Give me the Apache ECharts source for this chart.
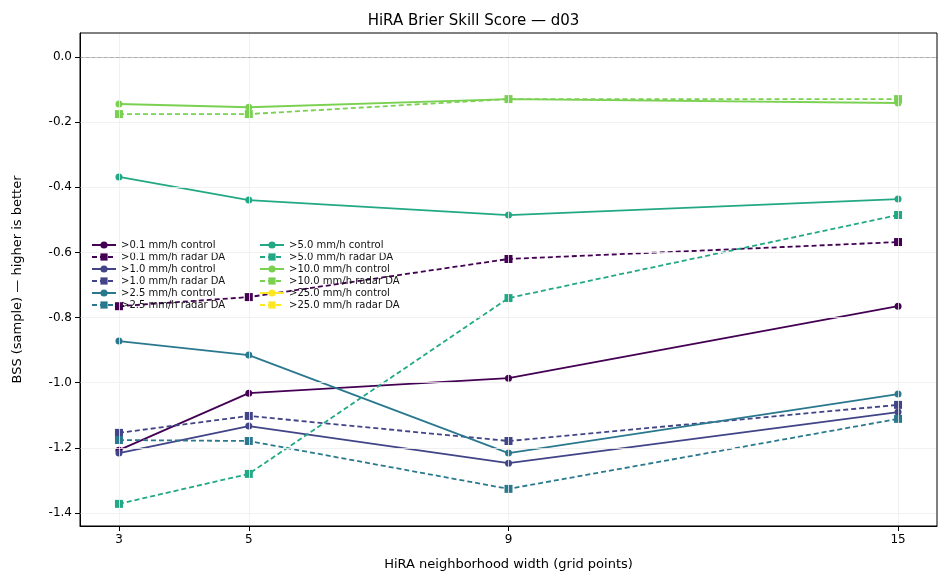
<!DOCTYPE html>
<html><head><meta charset="utf-8">
<script src="https://cdn.jsdelivr.net/npm/echarts@6/dist/echarts.min.js"></script>
<style>html,body{margin:0;background:#fff}#c{width:947px;height:584px}</style>
</head><body><div id="c"></div>
<script>
var widths = [3, 5, 9, 15];
var yTicks = [0, -0.2, -0.4, -0.6, -0.8, -1.0, -1.2, -1.4];
var thresholds = ['>0.1', '>1.0', '>2.5', '>5.0', '>10.0', '>25.0'];
var colors = ['#440154', '#414487', '#2a788e', '#22a884', '#7ad151', '#fde725'];
// control, radar DA per threshold
var control = [
    [-1.207, -1.032, -0.986, -0.765],
    [-1.216, -1.133, -1.247, -1.090],
    [-0.872, -0.915, -1.216, -1.035],
    [-0.368, -0.439, -0.485, -0.436],
    [-0.144, -0.154, -0.129, -0.141],
    [null, null, null, null]
];
var radar = [
    [-0.765, -0.737, -0.620, -0.568],
    [-1.154, -1.102, -1.179, -1.068],
    [-1.176, -1.179, -1.326, -1.111],
    [-1.372, -1.280, -0.740, -0.485],
    [-0.175, -0.175, -0.129, -0.129],
    [null, null, null, null]
];

var series = [];
var names1 = [], names2 = [];
thresholds.forEach(function(t, i){
    var n1 = t + ' mm/h control', n2 = t + ' mm/h radar DA';
    (i < 3 ? names1 : names2).push(n1, n2);
    series.push({
        name: n1, type: 'line', symbol: 'circle', symbolSize: 7, color: colors[i],
        itemStyle: {borderWidth: 0, color: colors[i]},
        lineStyle: {width: 1.8}, z: 3,
        data: widths.map(function(w, k){ return [w, control[i][k]]; })
    });
    series.push({
        name: n2, type: 'line', symbol: 'rect', symbolSize: 8, color: colors[i],
        itemStyle: {borderWidth: 0, color: colors[i]},
        lineStyle: {width: 1.8, type: [5, 3]}, z: 3,
        data: widths.map(function(w, k){ return [w, radar[i][k]]; })
    });
});
// grid lines + zero reference
series.push({
    type: 'line', data: [], silent: true,
    markLine: {
        symbol: 'none', silent: true, label: {show: false},
        data: widths.map(function(w){ return {xAxis: w, lineStyle: {color: '#eee', width: 0.8, type: 'solid'}}; })
            .concat(yTicks.map(function(v){ return {yAxis: v, lineStyle: {color: '#eee', width: 0.8, type: 'solid'}}; }))
            .concat([{yAxis: 0, lineStyle: {color: '#333', width: 0.6, type: 'dotted'}}])
    }
});

var leg = {
    orient: 'vertical', top: 235, itemWidth: 24, itemHeight: 9, itemGap: 2,
    itemStyle: {borderWidth: 0},
    textStyle: {fontSize: 10, color: '#111', fontFamily: 'DejaVu Sans'}
};
var option = {
    animation: false,
    title: {text: 'HiRA Brier Skill Score — d03', left: 'center', top: 9,
        textStyle: {fontSize: 15, fontWeight: 'normal', color: '#000', fontFamily: 'DejaVu Sans'}},
    legend: [
        Object.assign({}, leg, {left: 86, data: names1}),
        Object.assign({}, leg, {left: 254, data: names2})
    ],
    grid: {left: 80, right: 10, top: 33, bottom: 58},
    xAxis: {
        type: 'value', min: 2.4, max: 15.6,
        name: 'HiRA neighborhood width (grid points)', nameLocation: 'middle', nameGap: 32,
        nameTextStyle: {fontSize: 13, color: '#000', fontFamily: 'DejaVu Sans'},
        axisLine: {onZero: false, lineStyle: {color: '#000'}},
        axisTick: {customValues: widths, lineStyle: {color: '#000'}},
        axisLabel: {customValues: widths, color: '#000', fontSize: 12, fontFamily: 'DejaVu Sans'},
        splitLine: {show: false}
    },
    yAxis: {
        type: 'value', min: -1.44, max: 0.074,
        name: 'BSS (sample) — higher is better', nameLocation: 'middle', nameGap: 56,
        nameTextStyle: {fontSize: 13, color: '#000', fontFamily: 'DejaVu Sans'},
        axisLine: {show: true, lineStyle: {color: '#000'}},
        axisTick: {show: true, customValues: yTicks, lineStyle: {color: '#000'}},
        axisLabel: {customValues: yTicks, color: '#000', fontSize: 12, fontFamily: 'DejaVu Sans',
            formatter: function(v){ return v.toFixed(1); }},
        splitLine: {show: false}
    },
    series: series
};
// frame on top/right
option.graphic = [{type: 'rect', shape: {x: 80, y: 33, width: 857, height: 493},
    style: {fill: 'none', stroke: '#000', lineWidth: 1}, silent: true, z: 10}];
echarts.init(document.getElementById('c')).setOption(option);
</script></body></html>
